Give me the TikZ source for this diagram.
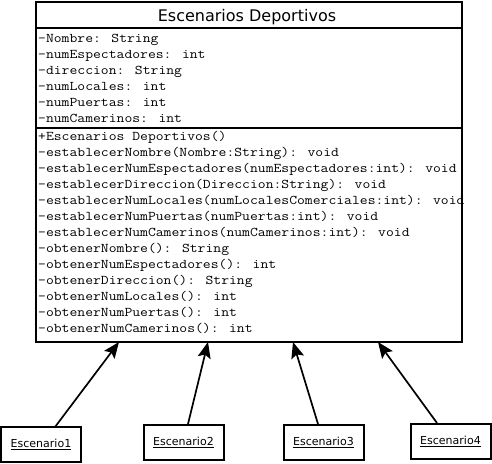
\documentclass[tikz,border=0pt]{standalone}
\usepackage{fontspec}
\usetikzlibrary{arrows.meta}
\newfontfamily\monof[FakeStretch=1.143]{Latin Modern Mono}
\newfontfamily\sansf{DejaVu Sans}
\begin{document}
\begin{tikzpicture}[x=1pt,y=-1pt,
  member/.style={anchor=base west,inner sep=0pt,font=\monof\fontsize{13.33}{16}\selectfont},
  titletext/.style={anchor=base,inner sep=0pt,font=\sansf\fontsize{16}{19}\selectfont},
  classbox/.style={draw,line width=2pt,inner sep=0pt},
  objbox/.style={draw,line width=2pt,minimum width=80pt,minimum height=35pt,inner sep=0pt,font=\sansf\fontsize{11}{13}\selectfont},
  sepline/.style={line width=2pt},
  inherit/.style={line width=1.7pt,-{Stealth[length=16pt,width=13pt,inset=3pt]}}]
\useasboundingbox (0,0) rectangle (492,463);
\fill[white] (0,0) rectangle (492,463);
% main class box
\node[classbox,minimum width=426pt,minimum height=340pt,anchor=north west] (main) at (35,1) {};
\coordinate (sepA) at (35,28);
\coordinate (sepB) at (35,128);
\draw[sepline] (sepA) -- (sepA -| main.east);
\draw[sepline] (sepB) -- (sepB -| main.east);
\node[titletext] (title) at (247,21) {Escenarios Deportivos};
% attributes
\node[member] (a1) at (38,42) {-Nombre: String};
\node[member] (a2) at (38,58) {-numEspectadores: int};
\node[member] (a3) at (38,74) {-direccion: String};
\node[member] (a4) at (38,90) {-numLocales: int};
\node[member] (a5) at (38,106) {-numPuertas: int};
\node[member] (a6) at (38,122) {-numCamerinos: int};
% methods
\node[member] (m1) at (38,140) {+Escenarios Deportivos()};
\node[member] (m2) at (38,156) {-establecerNombre(Nombre:String): void};
\node[member] (m3) at (38,172) {-establecerNumEspectadores(numEspectadores:int): void};
\node[member] (m4) at (38,188) {-establecerDireccion(Direccion:String): void};
\node[member] (m5) at (38,204) {-establecerNumLocales(numLocalesComerciales:int): void};
\node[member] (m6) at (38,220) {-establecerNumPuertas(numPuertas:int): void};
\node[member] (m7) at (38,236) {-establecerNumCamerinos(numCamerinos:int): void};
\node[member] (m8) at (38,252) {-obtenerNombre(): String};
\node[member] (m9) at (38,268) {-obtenerNumEspectadores(): int};
\node[member] (m10) at (38,284) {-obtenerDireccion(): String};
\node[member] (m11) at (38,300) {-obtenerNumLocales(): int};
\node[member] (m12) at (38,316) {-obtenerNumPuertas(): int};
\node[member] (m13) at (38,332) {-obtenerNumCamerinos(): int};
% object boxes
\node[objbox] (e1) at (41,444.5) {\underline{Escenario1}};
\node[objbox] (e2) at (183.5,442.5) {\underline{Escenario2}};
\node[objbox] (e3) at (323.5,442.5) {\underline{Escenario3}};
\node[objbox] (e4) at (450.5,441.5) {\underline{Escenario4}};
% arrow ends
\coordinate (s1) at (55,427);
\coordinate (s2) at (188,424);
\coordinate (s3) at (318,424);
\coordinate (s4) at (437,423);
\coordinate (t1) at (119,342);
\coordinate (t2) at (208,342);
\coordinate (t3) at (293,342);
\coordinate (t4) at (378,342);
\draw[inherit] (s1) -- (t1);
\draw[inherit] (s2) -- (t2);
\draw[inherit] (s3) -- (t3);
\draw[inherit] (s4) -- (t4);
\end{tikzpicture}
\end{document}
